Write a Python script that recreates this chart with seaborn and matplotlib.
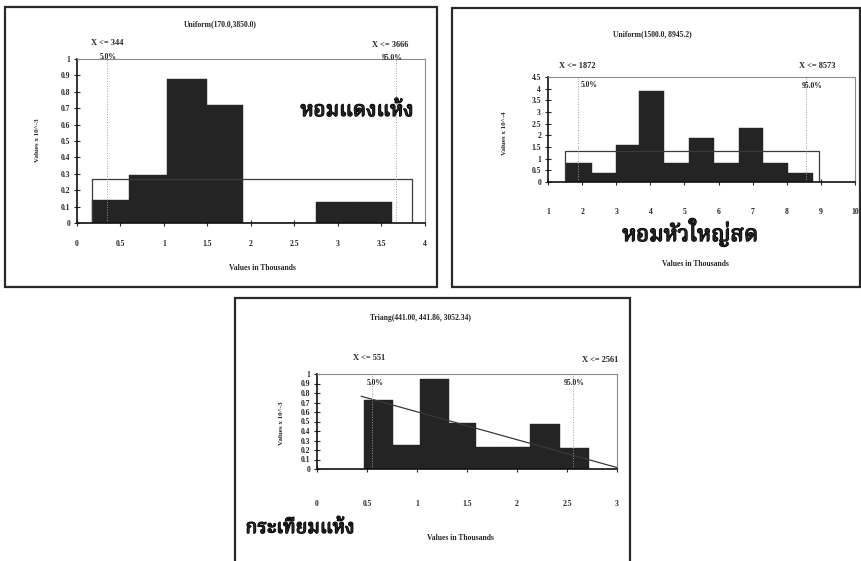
import numpy as np
import matplotlib
matplotlib.use('Agg')
import matplotlib.pyplot as plt
import matplotlib.patheffects as pe
import seaborn as sns
from matplotlib.patches import Rectangle

sns.set_style('white')
plt.rcParams['font.family'] = ['Liberation Serif', 'DejaVu Serif']
THAI = ['Norasi', 'Noto Serif Thai', 'Garuda', 'Loma', 'Tlwg Typo', 'Noto Sans Thai', 'DejaVu Sans']

W, H = 862, 561
BAR = '#242424'

# หอมแดงแห้ง
edges1 = [0.17, 0.60, 1.04, 1.50, 1.91, 2.33, 2.75, 3.19, 3.62]
heights1 = [0.14, 0.29, 0.88, 0.72, 0.0, 0.0, 0.13, 0.13]
fit1_x = [0.17, 0.17, 3.85, 3.85]
fit1_y = [0.0, 0.27, 0.27, 0.0]
cut1 = [0.344, 3.666]
cut1_labels = ['X <= 344', 'X <= 3666']
title1 = 'Uniform(170.0,3850.0)'
xticks1 = [0, 0.5, 1, 1.5, 2, 2.5, 3, 3.5, 4]
yticks1 = [0, 0.1, 0.2, 0.3, 0.4, 0.5, 0.6, 0.7, 0.8, 0.9, 1]

# หอมหัวใหญ่สด
edges2 = [1.52, 2.29, 2.98, 3.66, 4.41, 5.14, 5.86, 6.60, 7.31, 8.05, 8.76]
heights2 = [0.8, 0.4, 1.6, 3.9, 0.8, 1.9, 0.8, 2.33, 0.8, 0.38]
fit2_x = [1.50, 1.50, 8.95, 8.95]
fit2_y = [0.0, 1.34, 1.34, 0.0]
cut2 = [1.872, 8.573]
cut2_labels = ['X <= 1872', 'X <= 8573']
title2 = 'Uniform(1500.0, 8945.2)'
xticks2 = [1, 2, 3, 4, 5, 6, 7, 8, 9, 10]
yticks2 = [0, 0.5, 1, 1.5, 2, 2.5, 3, 3.5, 4, 4.5]

# กระเทียมแห้ง
edges3 = [0.467, 0.76, 1.03, 1.32, 1.59, 1.87, 2.13, 2.43, 2.72]
heights3 = [0.73, 0.25, 0.95, 0.48, 0.235, 0.235, 0.47, 0.225]
fit3_x = [0.441, 3.052]
fit3_y = [0.766, 0.0]
cut3 = [0.551, 2.561]
cut3_labels = ['X <= 551', 'X <= 2561']
title3 = 'Triang(441.00, 441.86, 3052.34)'
xticks3 = [0, 0.5, 1, 1.5, 2, 2.5, 3]
yticks3 = [0, 0.1, 0.2, 0.3, 0.4, 0.5, 0.6, 0.7, 0.8, 0.9, 1]


def fx(x):
    return x / W


def fy(y):
    return 1 - y / H


def fmt(v):
    return ('%g' % v)


fig = plt.figure(figsize=(W / 100, H / 100), dpi=100)

# panel frames
for (x0, y0, x1, y1) in [(5, 7, 437, 287), (452, 8, 860, 287), (235, 298, 630, 566)]:
    fig.patches.append(Rectangle((fx(x0), fy(y1)), fx(x1 - x0), (y1 - y0) / H,
                                 transform=fig.transFigure, fill=False,
                                 edgecolor='#2a2a2a', linewidth=1.6))


def panel(rect, edges, heights, fx_, fy_, cuts, xticks, yticks, xpad):
    x0, ytop, x1, ybot = rect
    ax = fig.add_axes([fx(x0), fy(ybot), fx(x1 - x0), (ybot - ytop) / H])
    centers = [(a + b) / 2 for a, b in zip(edges[:-1], edges[1:])]
    sns.histplot(x=centers, weights=heights, bins=edges, ax=ax, color=BAR,
                 alpha=1, edgecolor=BAR, linewidth=0.3, stat='count')
    ax.plot(fx_, fy_, color='#3a3a3a', lw=0.9)
    for c in cuts:
        ax.axvline(c, color='#9a9a9a', lw=0.7, ls=':')
    ax.set_xlim(xticks[0], xticks[-1])
    ax.set_ylim(yticks[0], yticks[-1])
    ax.set_xticks(xticks)
    ax.set_xticklabels([fmt(v) for v in xticks])
    ax.set_yticks(yticks)
    ax.set_yticklabels([fmt(v) for v in yticks])
    ax.set_xlabel('')
    ax.set_ylabel('')
    ax.tick_params(axis='x', direction='inout', length=4, width=0.8, pad=xpad,
                   labelsize=5.5, bottom=True)
    ax.tick_params(axis='y', direction='inout', length=4, width=0.8, pad=3,
                   labelsize=5.5, left=True)
    for lab in ax.get_xticklabels() + ax.get_yticklabels():
        lab.set_fontweight('bold')
    for s in ['top', 'right']:
        ax.spines[s].set_color('#8a8a8a')
        ax.spines[s].set_linewidth(0.8)
    for s in ['left', 'bottom']:
        ax.spines[s].set_color('#111111')
        ax.spines[s].set_linewidth(1.2)
    ax.set_facecolor('white')
    return ax


panel((77, 59, 425, 223), edges1, heights1, fit1_x, fit1_y, cut1, xticks1, yticks1, 10)
panel((548, 77, 855, 182), edges2, heights2, fit2_x, fit2_y, cut2, xticks2, yticks2, 17)
panel((317, 374, 617, 469), edges3, heights3, fit3_x, fit3_y, cut3, xticks3, yticks3, 20)


def txt(x, y, s, size=5.5, ha='center', rot=0, fam=None, weight='bold', thick=0):
    kw = {}
    if fam is not None:
        kw['family'] = fam
    t = fig.text(fx(x), fy(y), s, fontsize=size, ha=ha, va='center', rotation=rot,
                 fontweight=weight, **kw)
    if thick:
        t.set_path_effects([pe.withStroke(linewidth=thick, foreground='black')])


# panel 1 text
txt(220, 24, title1)
txt(107, 43, cut1_labels[0], 6)
txt(390, 45, cut1_labels[1], 6)
txt(108, 57, '5.0%', 5.5)
txt(392, 58, '95.0%', 5.5)
txt(357, 110, 'หอมแดงแห้ง', 15, fam=THAI, thick=1.0)
txt(38, 140, 'Values x 10^-3', 5, rot=90)
txt(262, 268, 'Values in Thousands', 5.5)

# panel 2 text
txt(652, 34, title2)
txt(577, 66, cut2_labels[0], 6)
txt(817, 66, cut2_labels[1], 6)
txt(589, 85, '5.0%', 5.5)
txt(812, 86, '95.0%', 5.5)
txt(690, 232, 'หอมหัวใหญ่สด', 16, fam=THAI, thick=1.0)
txt(505, 133, 'Values x 10^-4', 5, rot=90)
txt(695, 264, 'Values in Thousands', 5.5)

# panel 3 text
txt(420, 318, title3)
txt(369, 358, cut3_labels[0], 6)
txt(600, 360, cut3_labels[1], 6)
txt(375, 383, '5.0%', 5.5)
txt(574, 383, '95.0%', 5.5)
txt(300, 528, 'กระเทียมแห้ง', 14, fam=THAI, thick=1.0)
txt(282, 423, 'Values x 10^-3', 5, rot=90)
txt(460, 538, 'Values in Thousands', 5.5)

fig.savefig('out.png', dpi=100, facecolor='white')
